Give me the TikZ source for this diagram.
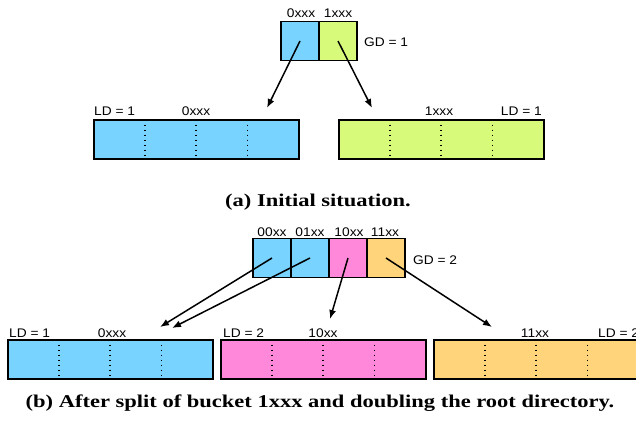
\documentclass[tikz,border=0pt]{standalone}
\usepackage{fontspec}
\setmainfont{Liberation Sans}
\newfontfamily\capfont[FakeStretch=1.25]{Liberation Serif}
\newfontfamily\lblfont[FakeStretch=1.1]{Liberation Sans}
\usepackage{tikz}
\usetikzlibrary{arrows.meta,positioning,calc}
\definecolor{bktblue}{RGB}{120,212,255}
\definecolor{bktgreen}{RGB}{216,250,122}
\definecolor{bktpink}{RGB}{255,136,218}
\definecolor{bktorange}{RGB}{255,212,122}

\begin{document}
\begin{tikzpicture}[x=1pt,y=-1pt,>={Latex[length=9pt,width=7pt]},
  cell/.style={draw,line width=1.7pt,minimum width=38pt,minimum height=39pt,inner sep=0pt,outer sep=0pt},
  bucket/.style={draw,line width=2pt,minimum width=205pt,minimum height=39pt,inner sep=0pt,outer sep=0pt},
  divider/.style={line width=1.5pt,dash pattern=on 1.5pt off 3.5pt},
  lbl/.style={font=\lblfont\fontsize{12.5}{14}\selectfont,inner sep=0pt},
  ptr/.style={->,line width=1.5pt},
  captext/.style={font=\capfont\bfseries\fontsize{18}{21}\selectfont,inner sep=0pt}]
  \useasboundingbox (0,0) rectangle (636,434);

  % (a) initial situation
  \node[cell,fill=bktblue] (d0) at (300,41) {};
  \node[cell,fill=bktgreen,right=0pt of d0] (d1) {};
  \node[lbl,anchor=base] at (301,17) {0xxx};
  \node[lbl,anchor=base] at (338,17) {1xxx};
  \node[lbl,anchor=base west] at (364,46) {GD = 1};

  \node[bucket,fill=bktblue] (b0) at (196,139) {};
  \node[bucket,fill=bktgreen] (b1) at (441,139) {};
  \foreach \b in {b0,b1}
    \foreach \k in {1,2,3}
      \draw[divider]
        ($(\b.north west)!\k/4!(\b.north east)$) -- ($(\b.south west)!\k/4!(\b.south east)$);
  \node[lbl,anchor=base west] at (94,115) {LD = 1};
  \node[lbl,anchor=base] at (196,115) {0xxx};
  \node[lbl,anchor=base] at (439,115) {1xxx};
  \node[lbl,anchor=base east] at (542,115) {LD = 1};

  \coordinate (t0) at (267,108);
  \coordinate (t1) at (372,108);
  \draw[ptr] (d0.center) -- (t0);
  \draw[ptr] (d1.center) -- (t1);

  \node[captext,anchor=base] at (318,206) {(a) Initial situation.};

  % (b) after the split
  \node[cell,fill=bktblue] (e00) at (272,258) {};
  \node[cell,fill=bktblue,right=0pt of e00] (e01) {};
  \node[cell,fill=bktpink,right=0pt of e01] (e10) {};
  \node[cell,fill=bktorange,right=0pt of e10] (e11) {};
  \node[lbl,anchor=base] at (272,236) {00xx};
  \node[lbl,anchor=base] at (310,236) {01xx};
  \node[lbl,anchor=base] at (349,236) {10xx};
  \node[lbl,anchor=base] at (385,236) {11xx};
  \node[lbl,anchor=base west] at (413,264) {GD = 2};

  \node[bucket,fill=bktblue] (c0) at (110,359) {};
  \node[bucket,fill=bktpink] (c10) at (323,359) {};
  \node[bucket,fill=bktorange] (c11) at (536,359) {};
  \foreach \b in {c0,c10,c11}
    \foreach \k in {1,2,3}
      \draw[divider]
        ($(\b.north west)!\k/4!(\b.north east)$) -- ($(\b.south west)!\k/4!(\b.south east)$);
  \node[lbl,anchor=base west] at (9,337) {LD = 1};
  \node[lbl,anchor=base] at (112,337) {0xxx};
  \node[lbl,anchor=base west] at (223,337) {LD = 2};
  \node[lbl,anchor=base] at (323,337) {10xx};
  \node[lbl,anchor=base] at (535,337) {11xx};
  \node[lbl,anchor=base west] at (598,337) {LD = 2};

  \coordinate (s00) at (160,327);
  \coordinate (s01) at (172,328);
  \coordinate (s10) at (330,319);
  \coordinate (s11) at (492,327);
  \draw[ptr] (e00.center) -- (s00);
  \draw[ptr] (e01.center) -- (s01);
  \draw[ptr] (e10.center) -- (s10);
  \draw[ptr] (e11.center) -- (s11);

  \node[captext,anchor=base] at (320,407) {(b) After split of bucket 1xxx and doubling the root directory.};
\end{tikzpicture}
\end{document}
